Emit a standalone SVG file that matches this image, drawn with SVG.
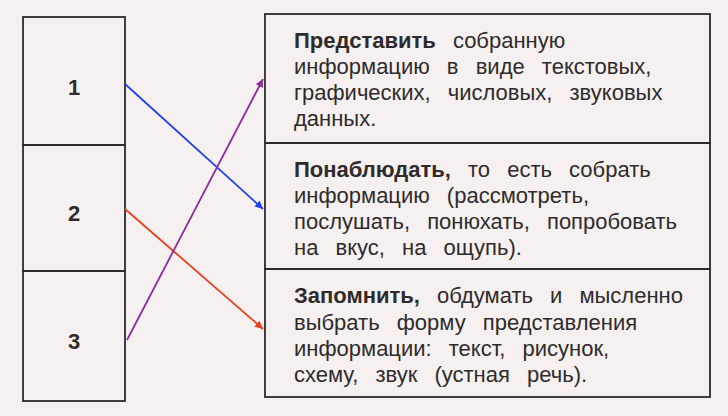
<svg xmlns="http://www.w3.org/2000/svg" width="728" height="416" viewBox="0 0 728 416">
<defs>
<style>
.box{fill:none;stroke:#2e2a2a;stroke-width:1.8}
.t{font-family:"Liberation Sans",Arial,sans-serif;font-size:22px;fill:#2f2b2b;word-spacing:11px}
.b{font-weight:bold}
.num{font-family:"Liberation Sans",Arial,sans-serif;font-size:22px;font-weight:bold;fill:#2f2b2b;text-anchor:middle}
.ar{fill:none;stroke-width:1.8}
</style>
<marker id="mb" viewBox="0 0 10 10" refX="10" refY="5" markerWidth="10" markerHeight="8" orient="auto" markerUnits="userSpaceOnUse"><path d="M0,0 L10,5 L0,10 z" fill="#1f3ff0"/></marker>
<marker id="mr" viewBox="0 0 10 10" refX="10" refY="5" markerWidth="10" markerHeight="8" orient="auto" markerUnits="userSpaceOnUse"><path d="M0,0 L10,5 L0,10 z" fill="#e8401c"/></marker>
<marker id="mp" viewBox="0 0 10 10" refX="10" refY="5" markerWidth="10" markerHeight="8" orient="auto" markerUnits="userSpaceOnUse"><path d="M0,0 L10,5 L0,10 z" fill="#8a2f9c"/></marker>
</defs>
<rect width="728" height="416" fill="#f6f0f1"/>
<g id="n1"><rect class="box" x="23" y="17" width="102" height="128"/><text class="num" x="74" y="95">1</text></g>
<g id="n2"><rect class="box" x="23" y="145" width="102" height="126"/><text class="num" x="74" y="221">2</text></g>
<g id="n3"><rect class="box" x="23" y="271" width="102" height="130"/><text class="num" x="74" y="349">3</text></g>
<g id="r1"><rect class="box" x="265" y="14" width="445" height="129"/>
<text class="t" x="294" y="48"><tspan class="b">Представить</tspan> собранную</text>
<text class="t" x="294" y="74">информацию в виде текстовых,</text>
<text class="t" x="294" y="100">графических, числовых, звуковых</text>
<text class="t" x="294" y="126">данных.</text></g>
<g id="r2"><rect class="box" x="265" y="143" width="445" height="126"/>
<text class="t" x="294" y="177"><tspan class="b">Понаблюдать,</tspan> то есть собрать</text>
<text class="t" x="294" y="203">информацию (рассмотреть,</text>
<text class="t" x="294" y="229">послушать, понюхать, попробовать</text>
<text class="t" x="294" y="255">на вкус, на ощупь).</text></g>
<g id="r3"><rect class="box" x="265" y="269" width="445" height="128"/>
<text class="t" x="294" y="303"><tspan class="b">Запомнить,</tspan> обдумать и мысленно</text>
<text class="t" x="294" y="330">выбрать форму представления</text>
<text class="t" x="294" y="356">информации: текст, рисунок,</text>
<text class="t" x="294" y="382">схему, звук (устная речь).</text></g>
<g id="connectors">
<line class="ar" x1="125" y1="84" x2="263" y2="209" stroke="#1f3ff0" marker-end="url(#mb)"/>
<line class="ar" x1="125" y1="209" x2="263" y2="329" stroke="#e8401c" marker-end="url(#mr)"/>
<line class="ar" x1="127" y1="340" x2="263" y2="79" stroke="#8a2f9c" marker-end="url(#mp)"/>
</g>
</svg>
